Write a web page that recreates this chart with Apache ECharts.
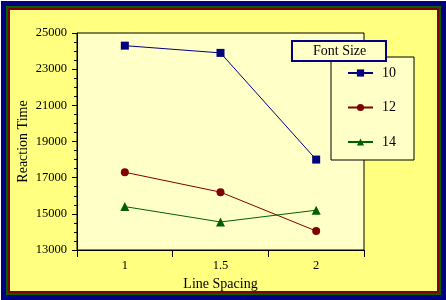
<!DOCTYPE html>
<html>
<head>
<meta charset="utf-8">
<script src="https://cdn.jsdelivr.net/npm/echarts@6/dist/echarts.min.js"></script>
<style>
  html, body { margin: 0; padding: 0; background: #fff; }
  .frame {
    position: absolute; left: 1px; top: 1px; width: 445px; height: 299px;
    box-sizing: border-box; border: 5px solid #000080;
  }
  .frame2 { width: 100%; height: 100%; box-sizing: border-box; border: 2px solid #006000; }
  .frame3 { width: 100%; height: 100%; box-sizing: border-box; border: 2px solid #800000; background: #ffff80; }
  #chart { position: absolute; left: 0; top: 0; width: 446px; height: 300px; }
</style>
</head>
<body>
<div class="frame"><div class="frame2"><div class="frame3"></div></div></div>
<div id="chart"></div>
<script>
// line spacing categories
const spacing = ['1', '1.5', '2'];
// reaction time per font size
const font10 = [24300, 23900, 18000];
const font12 = [17300, 16200, 14050];
const font14 = [15400, 14550, 15200];

const serif = 'Liberation Serif';
const chart = echarts.init(document.getElementById('chart'));

const mkSeries = (name, data, color, symbol, size) => ({
  name: name,
  type: 'line',
  data: data,
  symbol: symbol,
  symbolSize: size,
  lineStyle: { color: color, width: 1 },
  itemStyle: { color: color },
  emphasis: { disabled: true },
});

chart.setOption({
  backgroundColor: 'transparent',
  animation: false,
  title: {
    text: 'Font Size',
    left: 292,
    top: 41,
    padding: [3, 20, 3, 21],
    backgroundColor: '#ffffc8',
    borderColor: '#000080',
    borderWidth: 2,
    textStyle: { fontFamily: serif, fontSize: 14, fontWeight: 'normal', color: '#000' },
  },
  legend: {
    orient: 'vertical',
    left: 331,
    top: 57,
    padding: [9, 18, 11, 16],
    itemWidth: 25,
    itemHeight: 9,
    itemGap: 20.5,
    backgroundColor: '#ffffc8',
    borderColor: '#000',
    borderWidth: 1,
    borderRadius: 0,
    textStyle: { fontFamily: serif, fontSize: 14, color: '#000', padding: [0, 0, 0, 4] },
    data: ['10', '12', '14'],
  },
  grid: {
    left: 77, top: 33, right: 82, bottom: 50,
    show: true,
    backgroundColor: '#ffffc8',
    borderColor: '#000',
    borderWidth: 1,
  },
  xAxis: {
    type: 'category',
    data: spacing,
    boundaryGap: true,
    name: 'Line Spacing',
    nameLocation: 'middle',
    nameGap: 26,
    nameTextStyle: { fontFamily: serif, fontSize: 14, color: '#000' },
    axisLine: { lineStyle: { color: '#000', width: 1 } },
    axisTick: { show: true, length: 7, lineStyle: { color: '#000' } },
    axisLabel: { fontFamily: serif, fontSize: 12.5, color: '#000', margin: 9 },
    splitLine: { show: false },
  },
  yAxis: {
    type: 'value',
    min: 13000,
    max: 25000,
    interval: 2000,
    name: 'Reaction Time',
    nameLocation: 'middle',
    nameRotate: 90,
    nameGap: 47,
    nameMoveOverlap: false,
    nameTextStyle: { fontFamily: serif, fontSize: 14, color: '#000' },
    axisLine: { show: true, lineStyle: { color: '#000', width: 1 } },
    axisTick: { show: true, length: 5, lineStyle: { color: '#000' } },
    minorTick: { show: true, splitNumber: 4, length: 3, lineStyle: { color: '#000' } },
    axisLabel: { fontFamily: serif, fontSize: 12.5, color: '#000', margin: 10, formatter: (v) => String(v) },
    splitLine: { show: false },
  },
  series: [
    mkSeries('10', font10, '#000080', 'rect', 8),
    mkSeries('12', font12, '#800000', 'circle', 8),
    mkSeries('14', font14, '#006000', 'triangle', 9),
  ],
});
</script>
</body>
</html>
